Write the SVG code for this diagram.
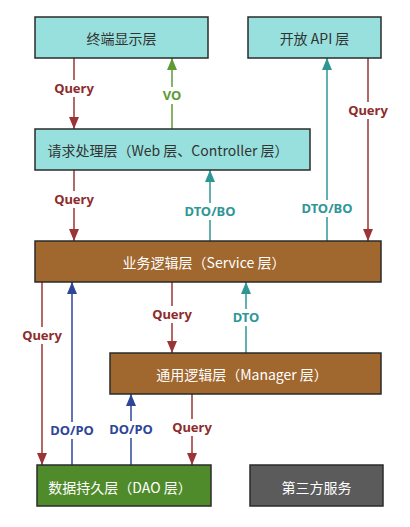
<svg xmlns="http://www.w3.org/2000/svg" width="410" height="527" viewBox="0 0 410 527">
<style>
.box{stroke:#2b2b2b;stroke-width:1.5}
.cyan{fill:#97E0DD}
.brown{fill:#A0672E}
.green{fill:#4F8B2A}
.gray{fill:#5B5B5B}
.t{font-family:"Noto Sans CJK SC","Noto Sans",sans-serif;font-size:14px;text-anchor:middle;dominant-baseline:central}
.dark{fill:#333}
.light{fill:#fff}
.lbl{font-family:"Noto Sans","Noto Sans CJK SC",sans-serif;font-size:13px;font-weight:bold;text-anchor:middle;dominant-baseline:central}
.bg{fill:#fff}
.r{stroke:#9B3535;stroke-width:1.5;fill:none}
.g{stroke:#5E9A36;stroke-width:1.5;fill:none}
.c{stroke:#2F9696;stroke-width:1.5;fill:none}
.b{stroke:#2E4699;stroke-width:1.5;fill:none}
</style>
<defs>
<marker id="ar" markerUnits="userSpaceOnUse" markerWidth="12" markerHeight="10" refX="12" refY="5" orient="auto"><path d="M0,0 L12,5 L0,10 z" fill="#9B3535"/></marker>
<marker id="ag" markerUnits="userSpaceOnUse" markerWidth="12" markerHeight="10" refX="12" refY="5" orient="auto"><path d="M0,0 L12,5 L0,10 z" fill="#5E9A36"/></marker>
<marker id="ac" markerUnits="userSpaceOnUse" markerWidth="12" markerHeight="10" refX="12" refY="5" orient="auto"><path d="M0,0 L12,5 L0,10 z" fill="#2F9696"/></marker>
<marker id="ab" markerUnits="userSpaceOnUse" markerWidth="12" markerHeight="10" refX="12" refY="5" orient="auto"><path d="M0,0 L12,5 L0,10 z" fill="#2E4699"/></marker>
</defs>
<rect width="410" height="527" fill="#fff"/>

<g id="connectors">
  <line class="r" x1="74" y1="58" x2="74" y2="129" marker-end="url(#ar)"/>
  <line class="g" x1="172" y1="129" x2="172" y2="58" marker-end="url(#ag)"/>
  <line class="c" x1="327" y1="241" x2="327" y2="58" marker-end="url(#ac)"/>
  <line class="r" x1="368" y1="58" x2="368" y2="241" marker-end="url(#ar)"/>
  <line class="r" x1="74" y1="170" x2="74" y2="241" marker-end="url(#ar)"/>
  <line class="c" x1="210" y1="241" x2="210" y2="170" marker-end="url(#ac)"/>
  <line class="r" x1="42" y1="282" x2="42" y2="465" marker-end="url(#ar)"/>
  <line class="b" x1="72" y1="465" x2="72" y2="282" marker-end="url(#ab)"/>
  <line class="r" x1="172" y1="282" x2="172" y2="353" marker-end="url(#ar)"/>
  <line class="c" x1="246" y1="353" x2="246" y2="282" marker-end="url(#ac)"/>
  <line class="b" x1="131" y1="465" x2="131" y2="394" marker-end="url(#ab)"/>
  <line class="r" x1="192" y1="394" x2="192" y2="465" marker-end="url(#ar)"/>

  <rect class="bg" x="52" y="80" width="44" height="17"/>
  <text class="lbl" x="74" y="88" fill="#8E2B2B">Query</text>
  <rect class="bg" x="160" y="87" width="24" height="17"/>
  <text class="lbl" x="172" y="95" fill="#5E9A36">VO</text>
  <rect class="bg" x="299" y="200" width="56" height="17"/>
  <text class="lbl" x="327" y="208" fill="#2F9696">DTO/BO</text>
  <rect class="bg" x="346" y="102" width="44" height="17"/>
  <text class="lbl" x="368" y="110" fill="#8E2B2B">Query</text>
  <rect class="bg" x="52" y="191" width="44" height="17"/>
  <text class="lbl" x="74" y="199" fill="#8E2B2B">Query</text>
  <rect class="bg" x="182" y="203" width="56" height="17"/>
  <text class="lbl" x="210" y="211" fill="#2F9696">DTO/BO</text>
  <rect class="bg" x="20" y="327" width="44" height="17"/>
  <text class="lbl" x="42" y="335" fill="#8E2B2B">Query</text>
  <rect class="bg" x="48" y="422" width="48" height="17"/>
  <text class="lbl" x="72" y="430" fill="#2E4699">DO/PO</text>
  <rect class="bg" x="150" y="306" width="44" height="17"/>
  <text class="lbl" x="172" y="314" fill="#8E2B2B">Query</text>
  <rect class="bg" x="231" y="309" width="30" height="17"/>
  <text class="lbl" x="246" y="317" fill="#2F9696">DTO</text>
  <rect class="bg" x="107" y="421" width="48" height="17"/>
  <text class="lbl" x="131" y="429" fill="#2E4699">DO/PO</text>
  <rect class="bg" x="170" y="419" width="44" height="17"/>
  <text class="lbl" x="192" y="427" fill="#8E2B2B">Query</text>
</g>

<g id="terminal">
  <rect class="box cyan" x="35" y="17" width="173" height="41"/>
  <text class="t dark" x="121.5" y="38">终端显示层</text>
</g>
<g id="openapi">
  <rect class="box cyan" x="248" y="17" width="133" height="41"/>
  <text class="t dark" x="314.5" y="38">开放 API 层</text>
</g>
<g id="controller">
  <rect class="box cyan" x="35" y="129" width="275" height="41"/>
  <text class="t dark" x="168" y="150">请求处理层（Web 层、Controller 层）</text>
</g>
<g id="service">
  <rect class="box brown" x="35" y="241" width="346" height="41"/>
  <text class="t light" x="204" y="262">业务逻辑层（Service 层）</text>
</g>
<g id="manager">
  <rect class="box brown" x="110" y="353" width="271" height="41"/>
  <text class="t light" x="242" y="374">通用逻辑层（Manager 层）</text>
</g>
<g id="dao">
  <rect class="box green" x="37" y="465" width="174" height="41"/>
  <text class="t light" x="120" y="487">数据持久层（DAO 层）</text>
</g>
<g id="thirdparty">
  <rect class="box gray" x="250" y="465" width="133" height="41"/>
  <text class="t light" x="316.5" y="487">第三方服务</text>
</g>
</svg>
